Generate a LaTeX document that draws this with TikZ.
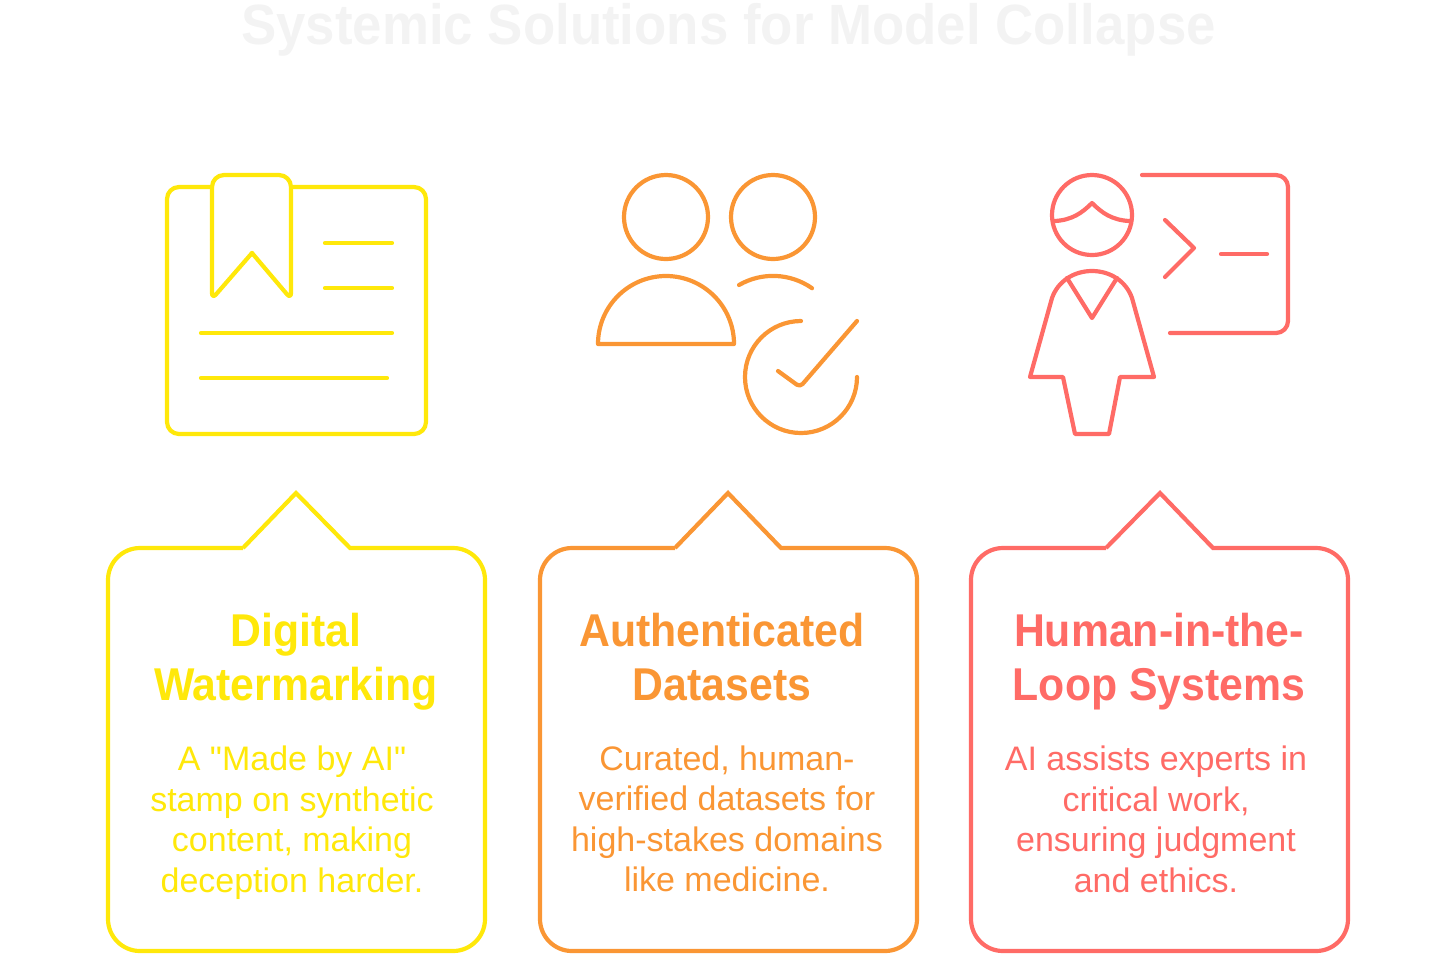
\documentclass[tikz,border=0pt]{standalone}
\usepackage{fontspec}
\setmainfont[Ligatures=TeXOff]{Liberation Sans}
\newfontfamily\headfont[FakeStretch=0.93]{Liberation Sans}
\usetikzlibrary{positioning}
\definecolor{wmark}{HTML}{FFE80A}
\definecolor{authd}{HTML}{FA9634}
\definecolor{human}{HTML}{FF6B66}
\definecolor{faint}{HTML}{F3F3F3}
\tikzset{
  icon/.style ={line width=2.1pt, line cap=round, line join=round},
  card/.style ={line width=2.1pt, line join=miter},
  ttl/.style  ={font=\headfont\fontsize{28.4}{32}\selectfont\bfseries, text=faint},
  head/.style ={font=\headfont\fontsize{23}{27}\selectfont\bfseries, align=center, inner sep=0pt},
  body/.style ={font=\fontsize{17}{20.2}\selectfont, align=center, inner sep=0pt}
}

\begin{document}
\begin{tikzpicture}[x=0.5pt,y=-0.5pt]
\useasboundingbox (0,0) rectangle (1456,966);
\node[ttl] (title) at (728.5,30) {Systemic Solutions for Model Collapse};

% bookmark page
\draw[icon,wmark] (212,187) -- (179,187) [rounded corners=6pt] -- (167,187) -- (167,434) -- (426,434) -- (426,187) -- (292,187);
\draw[icon,wmark,rounded corners=6pt] (212,240) -- (212,175) -- (291,175) -- (291,240);
\draw[icon,wmark,rounded corners=3pt] (212,240) -- (212,299) -- (252,253);
\draw[icon,wmark,rounded corners=3pt] (291,240) -- (291,299) -- (252,253);
\draw[icon,wmark] (325,243) -- (392,243);
\draw[icon,wmark] (325,288) -- (392,288);
\draw[icon,wmark] (201,333) -- (392,333);
\draw[icon,wmark] (201,378) -- (387,378);

% people with check
\draw[icon,authd] (666,217) circle[radius=42];
\draw[icon,authd] (773,217) circle[radius=42];
\draw[icon,authd] (598,344) arc[start angle=180, end angle=360, radius=68] -- cycle;
\draw[icon,authd] (739,285) arc[start angle=-120, end angle=-55, radius=68];
\draw[icon,authd] (801,321) arc[start angle=270, end angle=0, radius=56];
\draw[icon,authd,rounded corners=2pt] (778,371) -- (800,387) -- (857,321);

% person at terminal
\draw[icon,human] (1092,215) circle[radius=40];
\draw[icon,human] (1055,221) .. controls (1072,220) and (1082,213) .. (1092,203) .. controls (1102,213) and (1112,220) .. (1129,221);
\draw[icon,human] (1030,377) -- (1052,298) .. controls (1058,281) and (1074,271) .. (1092,271) .. controls (1110,271) and (1126,281) .. (1132,298) -- (1154,377) -- (1120,377) -- (1109,434) -- (1075,434) -- (1063,377) -- cycle;
\draw[icon,human] (1067,278) -- (1092,318) -- (1117,278);
\draw[icon,human,rounded corners=6pt] (1142,175) -- (1288,175) -- (1288,333) -- (1170,333);
\draw[icon,human] (1165,220) -- (1194,248) -- (1165,277);
\draw[icon,human] (1221,254) -- (1267,254);

% cards
\draw[card,wmark] (243,548) -- (296,493) -- (350,548) [rounded corners=16pt] -- (485,548) -- (485,951) -- (108,951) -- (108,548) -- (243,548);
\draw[card,authd] (675,548) -- (728,493) -- (781,548) [rounded corners=16pt] -- (917,548) -- (917,951) -- (540,951) -- (540,548) -- (675,548);
\draw[card,human] (1106,548) -- (1160,493) -- (1213,548) [rounded corners=16pt] -- (1348,548) -- (1348,951) -- (971,951) -- (971,548) -- (1106,548);

\node[head,text=wmark] (wmhead) at (296,662) {Digital\\Watermarking};
\node[head,text=authd] (auhead) at (722,657) {Authenticated\\Datasets};
\node[head,text=human] (huhead) at (1159,662) {Human-in-the-\\Loop Systems};
\node[body,text=wmark,below=17.5pt of wmhead,xshift=-2pt] (wmbody) {A "Made by AI"\\stamp on synthetic\\content, making\\deception harder.};
\node[body,text=authd,below=22pt of auhead,xshift=2.5pt] (aubody) {Curated, human-\\verified datasets for\\high-stakes domains\\like medicine.};
\node[body,text=human,below=17.5pt of huhead,xshift=-1.5pt] (hubody) {AI assists experts in\\critical work,\\ensuring judgment\\and ethics.};
\end{tikzpicture}
\end{document}
